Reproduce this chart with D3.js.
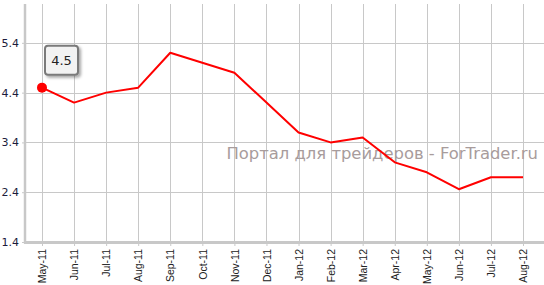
<!DOCTYPE html>
<html>
<head>
<meta charset="utf-8">
<script src="https://cdn.jsdelivr.net/npm/d3@7"></script>
<style>
  html, body { margin: 0; padding: 0; background: #fff; }
  svg { display: block; }
</style>
</head>
<body>
<div id="chart"></div>
<script>
var months = ["May-11", "Jun-11", "Jul-11", "Aug-11", "Sep-11", "Oct-11", "Nov-11", "Dec-11",
  "Jan-12", "Feb-12", "Mar-12", "Apr-12", "May-12", "Jun-12", "Jul-12", "Aug-12"];
var values = [4.5, 4.2, 4.4, 4.5, 5.2, 5.0, 4.8, 4.2, 3.6, 3.4, 3.5, 3.0, 2.8, 2.46, 2.7, 2.7];
var yTicks = [1.4, 2.4, 3.4, 4.4, 5.4];
var watermark = "Портал для трейдеров - ForTrader.ru";
var highlight = 0;

(function() {
  var width = 544, height = 285;
  var margin = { top: 4, right: 0, bottom: 43, left: 25 };
  var gridColor = "#c8c8c8";

  var svg = d3.select("#chart").append("svg")
    .attr("width", width).attr("height", height);

  var x = d3.scalePoint().domain(months).range([margin.left, 540]).padding(0.53);
  var y = d3.scaleLinear().domain([1.4, 6.18]).range([height - margin.bottom, margin.top]);

  // grid
  svg.append("g").selectAll("line.v").data(months).enter().append("line")
    .attr("x1", function(d) { return Math.round(x(d)) + 0.5; })
    .attr("x2", function(d) { return Math.round(x(d)) + 0.5; })
    .attr("y1", margin.top).attr("y2", y(1.4))
    .style("stroke", gridColor).style("stroke-width", 1);
  svg.append("g").selectAll("line.h").data(yTicks).enter().append("line")
    .attr("x1", margin.left).attr("x2", width)
    .attr("y1", function(d) { return Math.round(y(d)) + 0.5; })
    .attr("y2", function(d) { return Math.round(y(d)) + 0.5; })
    .style("stroke", gridColor).style("stroke-width", 1);

  // axes
  var yAxis = d3.axisLeft(y).tickValues(yTicks).tickSize(3).tickPadding(3)
    .tickFormat(d3.format(".1f"));
  var gy = svg.append("g").attr("transform", "translate(" + margin.left + ",0)").call(yAxis);
  gy.select(".domain").remove();
  gy.selectAll(".tick line").style("stroke", gridColor);
  gy.selectAll("text").style("font-family", "DejaVu Sans, Verdana, sans-serif")
    .style("font-size", "11px").style("fill", "#1c1c3c");

  var xAxis = d3.axisBottom(x).tickSize(4).tickPadding(4);
  var gx = svg.append("g").attr("transform", "translate(0," + y(1.4) + ")").call(xAxis);
  gx.select(".domain").remove();
  gx.selectAll(".tick line").style("stroke", gridColor);
  gx.selectAll("text")
    .attr("transform", "rotate(-90)")
    .attr("x", -7).attr("y", 0).attr("dy", "0.35em")
    .style("text-anchor", "end")
    .style("font-family", "Liberation Sans, Arial, sans-serif")
    .style("font-size", "10.5px").style("fill", "#222");

  svg.append("line").attr("x1", margin.left).attr("x2", margin.left)
    .attr("y1", margin.top).attr("y2", y(1.4) + 1.5)
    .style("stroke", gridColor).style("stroke-width", 2.5);
  svg.append("line").attr("x1", margin.left - 1).attr("x2", width)
    .attr("y1", y(1.4) + 0.5).attr("y2", y(1.4) + 0.5)
    .style("stroke", gridColor).style("stroke-width", 3);

  // watermark
  svg.append("text").attr("x", 538).attr("y", 159)
    .attr("text-anchor", "end")
    .style("font-family", "DejaVu Sans, Verdana, sans-serif")
    .style("font-size", "16.4px").style("fill", "#a89c9c")
    .text(watermark);

  // series
  var line = d3.line()
    .x(function(d, i) { return x(months[i]); })
    .y(function(d) { return y(d); });
  svg.append("path").datum(values).attr("d", line)
    .style("fill", "none").style("stroke", "#ff0000").style("stroke-width", 2)
    .style("stroke-linejoin", "round");

  var hx = x(months[highlight]), hy = y(values[highlight]);
  svg.append("circle").attr("cx", hx).attr("cy", hy).attr("r", 5).style("fill", "#ff0000");

  // tooltip
  var defs = svg.append("defs");
  var f = defs.append("filter").attr("id", "shadow").attr("x", "-30%").attr("y", "-30%")
    .attr("width", "170%").attr("height", "170%");
  f.append("feDropShadow").attr("dx", 2).attr("dy", 2).attr("stdDeviation", 1.5)
    .attr("flood-color", "#000").attr("flood-opacity", 0.35);
  var tip = svg.append("g").attr("transform", "translate(" + (hx + 3) + "," + (hy - 42) + ")");
  tip.append("rect").attr("width", 33).attr("height", 29).attr("rx", 3)
    .style("fill", "#f2f2f2").style("stroke", "#7a7a7a").style("stroke-width", 2)
    .attr("filter", "url(#shadow)");
  tip.append("text").attr("x", 16.5).attr("y", 15).attr("dy", "0.35em")
    .attr("text-anchor", "middle")
    .style("font-family", "DejaVu Sans, Verdana, sans-serif")
    .style("font-size", "13px").style("fill", "#222")
    .text(d3.format(".1f")(values[highlight]));
})();
</script>
</body>
</html>
